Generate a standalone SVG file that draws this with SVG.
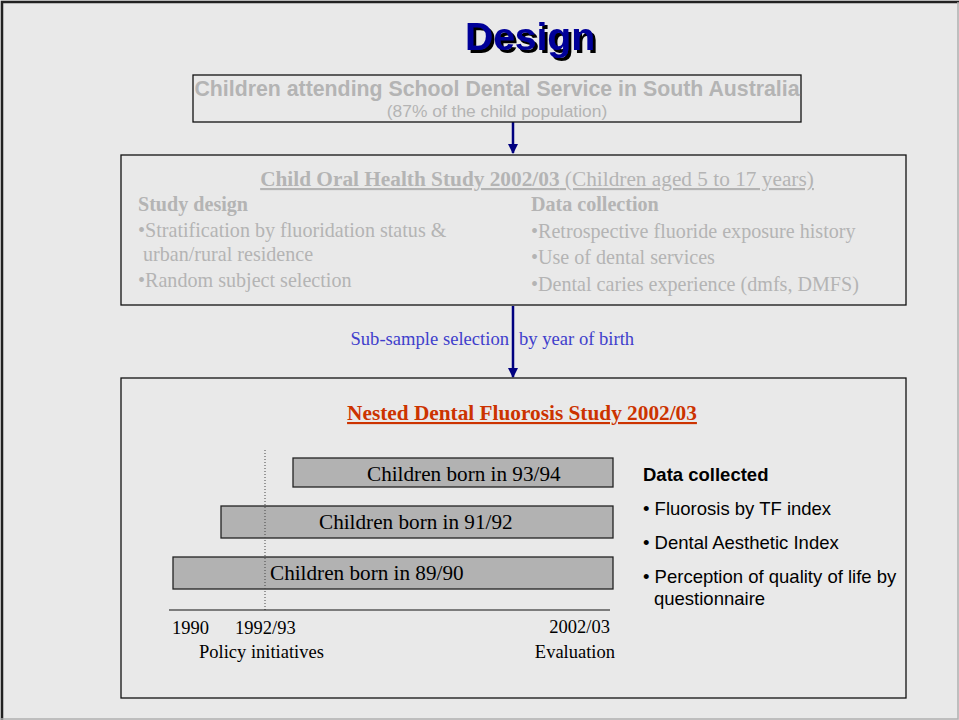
<svg xmlns="http://www.w3.org/2000/svg" width="959" height="720" viewBox="0 0 959 720">
<defs>
<style>
.box{fill:none;stroke:#111;stroke-width:1.3}
.g{fill:#b4b4b4}
.sans{font-family:"Liberation Sans",Arial,sans-serif}
.serif{font-family:"Liberation Serif","Times New Roman",serif}
.bar{fill:#b2b2b2;stroke:#222;stroke-width:1.3}
.conn{stroke:#000080;stroke-width:2.5;fill:none}
</style>
<marker id="ah" viewBox="0 0 10 10" refX="9" refY="5" markerWidth="4" markerHeight="4" orient="auto" markerUnits="strokeWidth">
<path d="M0,0 L10,5 L0,10 z" fill="#000080"/>
</marker>
<filter id="shadow" x="-10%" y="-10%" width="130%" height="130%">
<feOffset in="SourceAlpha" dx="2.5" dy="2.5" result="o"/>
<feFlood flood-color="#000"/>
<feComposite in2="o" operator="in" result="s"/>
<feMerge><feMergeNode in="s"/><feMergeNode in="SourceGraphic"/></feMerge>
</filter>
</defs>
<rect x="0" y="0" width="959" height="720" fill="#e9e9e9"/>
<path d="M2,720 V2 H959" fill="none" stroke="#222" stroke-width="2.5"/>
<path d="M958,2 V719 H0" fill="none" stroke="#b0b0b0" stroke-width="1.5"/>

<g id="title">
<text x="530" y="50" text-anchor="middle" class="sans" font-weight="bold" font-size="39" fill="#000099" filter="url(#shadow)">Design</text>
</g>

<g id="connectors">
<line x1="513" y1="122" x2="513" y2="153" class="conn" marker-end="url(#ah)"/>
<line x1="513" y1="306" x2="513" y2="377" class="conn" marker-end="url(#ah)"/>
<text x="509" y="345" text-anchor="end" class="serif" font-size="18.6" fill="#4040cc">Sub-sample selection</text>
<text x="519" y="345" class="serif" font-size="18.6" fill="#4040cc">by year of birth</text>
</g>

<g id="school">
<rect x="193" y="75" width="608" height="47" class="box"/>
<text x="497" y="96" text-anchor="middle" class="sans g" font-weight="bold" font-size="21.3">Children attending School Dental Service in South Australia</text>
<text x="497" y="117" text-anchor="middle" class="sans g" font-size="17.4">(87% of the child population)</text>
</g>

<g id="cohs">
<rect x="121" y="155" width="785" height="150" class="box"/>
<text x="537" y="186" text-anchor="middle" class="serif g" font-size="21.3" text-decoration="underline"><tspan font-weight="bold">Child Oral Health Study 2002/03</tspan> (Children aged 5 to 17 years)</text>
<g class="serif g" font-size="20.1">
<text x="138" y="211" font-weight="bold">Study design</text>
<text x="138" y="237">•Stratification by fluoridation status &amp;</text>
<text x="138" y="261" xml:space="preserve"> urban/rural residence</text>
<text x="138" y="287">•Random subject selection</text>
<text x="531" y="211" font-weight="bold">Data collection</text>
<text x="531" y="238">•Retrospective fluoride exposure history</text>
<text x="531" y="264">•Use of dental services</text>
<text x="531" y="291">•Dental caries experience (dmfs, DMFS)</text>
</g>
</g>

<g id="nested">
<rect x="121" y="378" width="785" height="320" class="box"/>
<text x="522" y="420" text-anchor="middle" class="serif" font-weight="bold" font-size="21.3" fill="#cc3300" text-decoration="underline">Nested Dental Fluorosis Study 2002/03</text>
<g id="bar93">
<rect x="293" y="458" width="320" height="29" class="bar"/>
<text x="367" y="481" class="serif" font-size="21.2" fill="#000">Children born in 93/94</text>
</g>
<g id="bar91">
<rect x="221" y="506" width="392" height="32" class="bar"/>
<text x="319" y="529" class="serif" font-size="21.2" fill="#000">Children born in 91/92</text>
</g>
<g id="bar89">
<rect x="173" y="557" width="440" height="32" class="bar"/>
<text x="270" y="580" class="serif" font-size="21.2" fill="#000">Children born in 89/90</text>
</g>
<line x1="265" y1="450" x2="265" y2="610" stroke="#444" stroke-width="1" stroke-dasharray="1,2"/>
<line x1="169" y1="610" x2="610" y2="610" stroke="#111" stroke-width="1.2"/>
<g class="serif" font-size="18.5" fill="#000">
<text x="172" y="634">1990</text>
<text x="235" y="634">1992/93</text>
<text x="610" y="633" text-anchor="end">2002/03</text>
<text x="199" y="658">Policy initiatives</text>
<text x="615" y="658" text-anchor="end">Evaluation</text>
</g>
<g class="sans" font-size="18.5" fill="#000">
<text x="643" y="481" font-weight="bold">Data collected</text>
<text x="643" y="515">• Fluorosis by TF index</text>
<text x="643" y="549">• Dental Aesthetic Index</text>
<text x="643" y="583">• Perception of quality of life by</text>
<text x="654" y="605">questionnaire</text>
</g>
</g>
</svg>
